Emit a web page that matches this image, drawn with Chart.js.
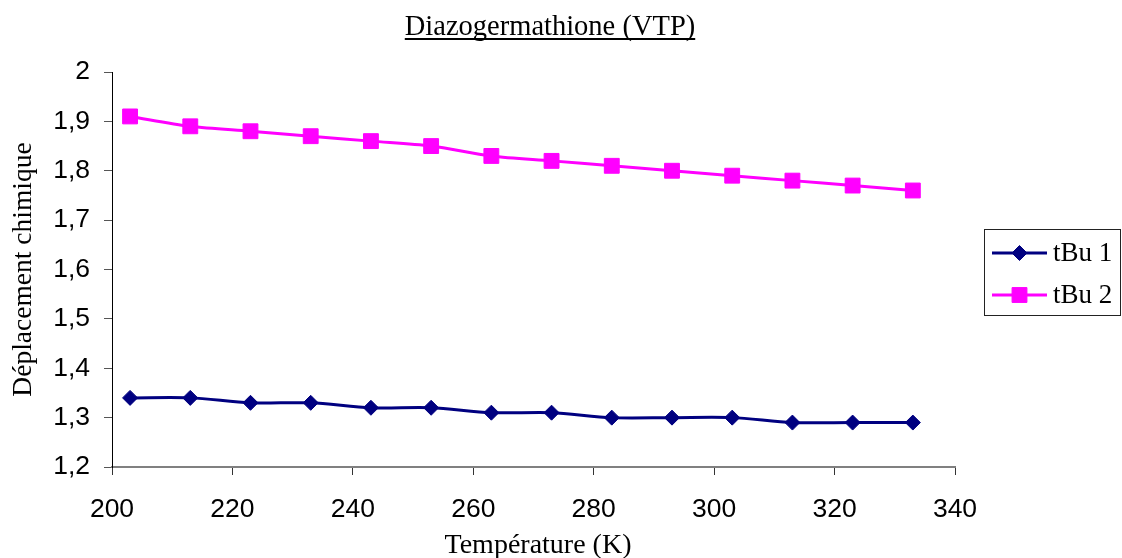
<!DOCTYPE html>
<html>
<head>
<meta charset="utf-8">
<script src="https://cdn.jsdelivr.net/npm/chart.js@4/dist/chart.umd.min.js"></script>
<style>
  html, body { margin: 0; padding: 0; background: #ffffff; overflow: hidden; }
  #wrap { width: 1122px; height: 558px; }
</style>
</head>
<body>
<div id="wrap"><canvas id="c" width="1122" height="558"></canvas></div>
<script>
// Temperatures (K) and chemical shifts of the two tBu signals
const temperatures = [203, 213, 223, 233, 243, 253, 263, 273, 283, 293, 303, 313, 323, 333];
const tBu1 = [1.34, 1.34, 1.33, 1.33, 1.32, 1.32, 1.31, 1.31, 1.30, 1.30, 1.30, 1.29, 1.29, 1.29];
const tBu2 = [1.91, 1.89, 1.88, 1.87, 1.86, 1.85, 1.83, 1.82, 1.81, 1.80, 1.79, 1.78, 1.77, 1.76];
const seriesNames = ['tBu 1', 'tBu 2'];
const xTicks = [200, 220, 240, 260, 280, 300, 320, 340];
const yTicks = [1.2, 1.3, 1.4, 1.5, 1.6, 1.7, 1.8, 1.9, 2.0];
const chartTitle = 'Diazogermathione (VTP)';
const xTitle = 'Température (K)';
const yTitle = 'Déplacement chimique';

const SERIF = '"Liberation Serif", "Times New Roman", serif';
const SANS = '"Liberation Sans", Arial, sans-serif';

function frNumber(v) {
  return Number.isInteger(v) ? String(v) : v.toFixed(1).replace('.', ',');
}

const toPoints = (ys) => temperatures.map((t, i) => ({ x: t, y: ys[i] }));

// Title, axis titles and boxed legend drawn on top of the chart
const decorations = {
  id: 'decorations',
  afterDraw(chart) {
    const ctx = chart.ctx;
    const area = chart.chartArea;
    ctx.save();
    ctx.fillStyle = '#000';

    // underlined title
    ctx.font = '28.5px ' + SERIF;
    ctx.textAlign = 'center';
    ctx.textBaseline = 'alphabetic';
    const tx = 550, ty = 35;
    ctx.fillText(chartTitle, tx, ty);
    const tw = ctx.measureText(chartTitle).width;
    ctx.fillRect(tx - tw / 2, ty + 3, tw, 2);

    // x axis title
    ctx.font = '28px ' + SERIF;
    ctx.fillText(xTitle, 538, 553);

    // y axis title
    ctx.save();
    ctx.font = '27.5px ' + SERIF;
    ctx.translate(24, (area.top + area.bottom) / 2);
    ctx.rotate(-Math.PI / 2);
    ctx.textBaseline = 'middle';
    ctx.fillText(yTitle, 0, 0);
    ctx.restore();

    // legend box
    const box = { x: 984.5, y: 229.5, w: 136, h: 86 };
    ctx.strokeStyle = '#222';
    ctx.lineWidth = 1;
    ctx.strokeRect(box.x, box.y, box.w, box.h);
    const rows = [253, 295];
    chart.data.datasets.forEach((ds, i) => {
      const y = rows[i];
      ctx.strokeStyle = ds.borderColor;
      ctx.lineWidth = ds.borderWidth;
      ctx.beginPath();
      ctx.moveTo(992, y);
      ctx.lineTo(1047, y);
      ctx.stroke();
      ctx.fillStyle = ds.pointBackgroundColor;
      ctx.strokeStyle = ds.pointBorderColor;
      ctx.lineWidth = 1;
      Chart.helpers.drawPoint(ctx, {
        pointStyle: ds.pointStyle,
        radius: ds.pointRadius,
        borderWidth: 1
      }, 1019.5, y);
      ctx.fillStyle = '#000';
      ctx.font = '27px ' + SERIF;
      ctx.textAlign = 'left';
      ctx.textBaseline = 'middle';
      ctx.fillText(ds.label, 1053, y + 1);
    });
    ctx.restore();
  }
};

const chart = new Chart(document.getElementById('c'), {
  type: 'line',
  data: {
    datasets: [
      {
        label: seriesNames[0],
        data: toPoints(tBu1),
        borderColor: '#000080',
        backgroundColor: '#000080',
        pointBackgroundColor: '#000080',
        pointBorderColor: '#000080',
        borderWidth: 3,
        pointStyle: 'rectRot',
        pointRadius: 7.5,
        pointBorderWidth: 1,
        tension: 0.3
      },
      {
        label: seriesNames[1],
        data: toPoints(tBu2),
        borderColor: '#ff00ff',
        backgroundColor: '#ff00ff',
        pointBackgroundColor: '#ff00ff',
        pointBorderColor: '#ff00ff',
        borderWidth: 3,
        pointStyle: 'rect',
        pointRadius: 10.5,
        pointBorderWidth: 1,
        tension: 0.3
      }
    ]
  },
  options: {
    responsive: false,
    animation: false,
    events: [],
    layout: { padding: { top: 72, right: 167, left: 0, bottom: 0 } },
    plugins: {
      legend: { display: false },
      title: { display: false },
      tooltip: { enabled: false }
    },
    scales: {
      x: {
        type: 'linear',
        min: 200,
        max: 340,
        afterBuildTicks(scale) { scale.ticks = xTicks.map(v => ({ value: v })); },
        afterFit(scale) { scale.height = 91; },
        ticks: {
          color: '#000',
          font: { family: SANS, size: 26.5 },
          padding: 19,
          maxRotation: 0,
          callback: (v) => String(v)
        },
        grid: { drawOnChartArea: false, drawTicks: true, tickLength: 8, color: '#333', lineWidth: 1 },
        border: { display: true, color: '#808080', width: 2 }
      },
      y: {
        type: 'linear',
        min: 1.2,
        max: 2,
        afterBuildTicks(scale) { scale.ticks = yTicks.map(v => ({ value: v })); },
        afterFit(scale) { scale.width = 112; },
        ticks: {
          color: '#000',
          font: { family: SANS, size: 26.5 },
          padding: 14,
          callback: (v) => frNumber(v)
        },
        grid: { drawOnChartArea: false, drawTicks: true, tickLength: 8, color: '#555', lineWidth: 1 },
        border: { display: true, color: '#000', width: 1 }
      }
    }
  },
  plugins: [decorations]
});
</script>
</body>
</html>
